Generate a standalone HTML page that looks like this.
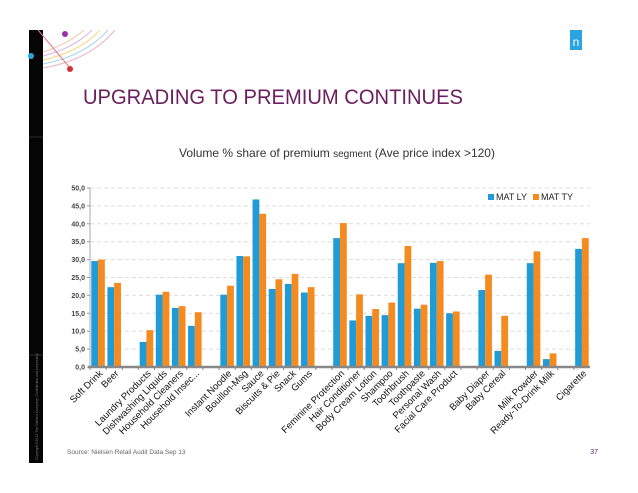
<!DOCTYPE html>
<html><head><meta charset="utf-8"><style>
body{margin:0;background:#fff;font-family:"Liberation Sans",sans-serif}
#wrap{position:relative;width:638px;height:493px;overflow:hidden;background:#fff}
</style></head><body>
<div id="wrap">
<svg id="svg" width="638" height="493" xmlns="http://www.w3.org/2000/svg">
<rect x="29" y="30" width="14" height="433" fill="#050505"/>
<line x1="29" y1="137" x2="43" y2="137" stroke="#555" stroke-width="0.5"/>
<line x1="29" y1="355" x2="43" y2="355" stroke="#555" stroke-width="0.5"/>
<text transform="translate(38,460) rotate(-90)" font-size="3.5" fill="#777">Copyright ©2012 The Nielsen Company. Confidential and proprietary.</text>
<g fill="none" stroke-width="1">
<path d="M43 68 Q90 60 115 30" stroke="#f2b4c8"/>
<path d="M43 64 Q85 56 108 30" stroke="#a9d6ee"/>
<path d="M43 60 Q80 52 100 30" stroke="#f5d77c"/>
<path d="M43 56 Q74 48 92 30" stroke="#d8b4e8"/>
<path d="M43 52 Q68 44 84 30" stroke="#f7c7a4"/>
<line x1="38" y1="30" x2="70" y2="68" stroke="#e07a8a"/>
</g>
<circle cx="65" cy="34" r="3" fill="#9b2fae"/>
<circle cx="31" cy="56" r="3" fill="#27a4dd"/>
<circle cx="70" cy="69" r="3" fill="#d6303c"/>
<rect x="570" y="30" width="12" height="20" fill="#2aa4e0"/>
<text x="576" y="46" font-size="12" fill="#fff" text-anchor="middle">n</text>
<text x="83" y="104" font-size="21" fill="#6b1f5e" textLength="380" lengthAdjust="spacingAndGlyphs">UPGRADING TO PREMIUM CONTINUES</text>
<text x="337" y="157" font-size="12" fill="#333" text-anchor="middle">Volume % share of premium <tspan font-size="10">segment</tspan> (Ave price index &gt;120)</text>
<g id="chart"></g>
<text x="67" y="454" font-size="6.5" fill="#666">Source: Nielsen Retail Audit Data Sep 13</text>
<text x="598" y="454" font-size="7" fill="#6b1f5e" text-anchor="end">37</text>
</svg>
</div>
<script>
const categories=["Soft Drink","Beer","","Laundry Products","Dishwashing Liquids","Household Cleaners","Household Insec...","","Instant Noodle","Bouillon-Msg","Sauce","Biscuits & Pie","Snack","Gums","","Feminine Protection","Hair Conditioner","Body Cream Lotion","Shampoo","Toothbrush","Toothpaste","Personal Wash","Facial Care Product","","Baby Diaper","Baby Cereal","","Milk Powder","Ready-To-Drink Milk","","Cigarette"];
const matLY=[29.6,22.3,null,7.0,20.2,16.5,11.5,null,20.2,31.0,46.8,21.8,23.2,20.8,null,36.0,13.0,14.3,14.5,29.0,16.3,29.1,15.0,null,21.5,4.5,null,29.0,2.2,null,33.0];
const matTY=[30.0,23.5,null,10.3,21.0,17.0,15.3,null,22.7,30.9,42.8,24.5,26.0,22.3,null,40.2,20.3,16.2,18.0,33.8,17.4,29.6,15.5,null,25.8,14.3,null,32.3,3.8,null,36.0];
const yTicks=[0,5,10,15,20,25,30,35,40,45,50];
const yTickLabels=["0,0","5,0","10,0","15,0","20,0","25,0","30,0","35,0","40,0","45,0","50,0"];
const seriesNames=["MAT LY","MAT TY"];
const NS="http://www.w3.org/2000/svg";
const g=document.getElementById('chart');
const x0=90,x1=590,yTop=188,yBot=367,yMax=50;
const slot=(x1-x0)/categories.length;
const y=v=>yBot-(v/yMax)*(yBot-yTop);
const xc=i=>x0+slot*(i+0.5);
function mk(t,a){const e=document.createElementNS(NS,t);for(const k in a)e.setAttribute(k,a[k]);g.appendChild(e);return e;}
yTicks.forEach((t,i)=>{
 if(t>0){const l=mk('line',{x1:x0,x2:x1,y1:y(t),y2:y(t),stroke:'#ddd','stroke-dasharray':'4,3'});
 
 }
 const tx=mk('text',{x:x0-5,y:y(t)+2.5,'font-size':7,'font-weight':'bold',fill:'#444','text-anchor':'end'});
 tx.textContent=yTickLabels[i];
 
 
 mk('line',{x1:x0-3,x2:x0,y1:y(t),y2:y(t),stroke:'#999'});
});
const ax=mk('line',{x1:x0,x2:x0,y1:yTop,y2:yBot,stroke:'#aaa'});


const bw=slot*0.42;
categories.forEach((c,i)=>{
 if(matLY[i]!=null){const r=mk('rect',{x:xc(i)-bw,y:y(matLY[i]),width:bw,height:yBot-y(matLY[i]),fill:'#1f9bd7'});
 
 }
 if(matTY[i]!=null){const r=mk('rect',{x:xc(i),y:y(matTY[i]),width:bw,height:yBot-y(matTY[i]),fill:'#f58a1f'});
 
 }
 mk('line',{x1:x0+slot*i,x2:x0+slot*i,y1:yBot,y2:yBot+3,stroke:'#888'});
 if(c){const t=mk('text',{transform:`translate(${xc(i)+5},${yBot+7}) rotate(-45)`,'font-size':9.5,fill:'#111','text-anchor':'end'});
 t.textContent=c;
 
 }
});
const xa=mk('line',{x1:x0-2,x2:x1,y1:yBot,y2:yBot,stroke:'#888','stroke-width':2.5});


const cols=['#1f9bd7','#f58a1f'];const lx=[488,533];
seriesNames.forEach((n,i)=>{
 const s=mk('rect',{x:lx[i],y:194,width:6,height:6,fill:cols[i]});
 
 
 const t=mk('text',{x:lx[i]+8,y:200,'font-size':9,fill:'#222'});
 t.textContent=n;
 
 
});
</script>
</body></html>
